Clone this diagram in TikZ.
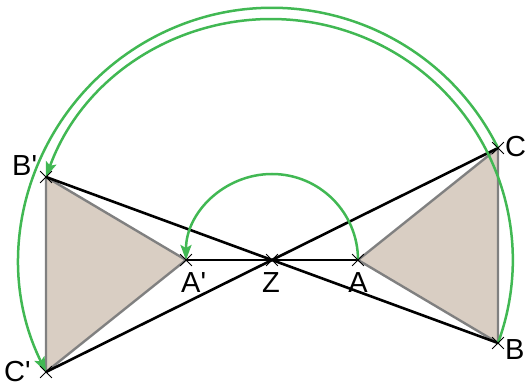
\documentclass[tikz,border=0pt]{standalone}
\usepackage{fontspec}
\setmainfont{Liberation Sans}
\usetikzlibrary{arrows.meta,shapes.misc}
\definecolor{turngreen}{HTML}{41B853}
\definecolor{tan}{HTML}{D9CEC3}
\definecolor{edgegray}{HTML}{808080}

\begin{document}
\begin{tikzpicture}[x=1pt, y=1pt,
    tri/.style={draw=edgegray, fill=tan, line width=2.4pt, line join=round},
    seg/.style={black, line width=2.6pt},
    turn/.style={turngreen, line width=2.5pt, -{Stealth[length=15pt, width=11pt, inset=3pt]}},
    xmark/.style={cross out, draw, minimum size=11pt, inner sep=0pt, line width=0.8pt},
    lbl/.style={font=\fontsize{29}{31}\selectfont, inner sep=0pt}]
  \useasboundingbox (0,0) rectangle (526,387);
  % points, Z is the centre
  \coordinate (Z) at (272,127);
  \coordinate (A) at (358,127);
  \coordinate (B) at (498,44);
  \coordinate (C) at (498,239);
  \coordinate (Ap) at (186,127);
  \coordinate (Bp) at (46,210);
  \coordinate (Cp) at (46,15);
  % triangles
  \draw[tri] (A) -- (B) -- (C) -- cycle;
  \draw[tri] (Ap) -- (Bp) -- (Cp) -- cycle;
  \draw[seg] (Bp) -- (B);
  \draw[seg] (Cp) -- (C);
  \draw[seg] (Ap) -- (A);
  % half turns
  \draw[turn] (A) arc[start angle=0, end angle=180, radius=86];
  \draw[turn] (B) arc[start angle=-20.17, end angle=159.83, radius=240.8];
  \draw[turn] (C) arc[start angle=26.37, end angle=206.37, radius=252.2];
  \foreach \p in {Z,A,B,C,Ap,Bp,Cp} \node[xmark] at (\p) {};
  % labels
  \node[lbl, anchor=base] (lz) at (271,94) {Z};
  \node[lbl, anchor=base] (la) at (358,94) {A};
  \node[lbl, anchor=base west] (lap) at (181,94) {A\textquotesingle};
  \node[lbl, anchor=base west] (lc) at (505,230) {C};
  \node[lbl, anchor=base west] (lb) at (505,27) {B};
  \node[lbl, anchor=base west] (lbp) at (12,211) {B\textquotesingle};
  \node[lbl, anchor=base west] (lcp) at (4,5) {C\textquotesingle};
\end{tikzpicture}
\end{document}
